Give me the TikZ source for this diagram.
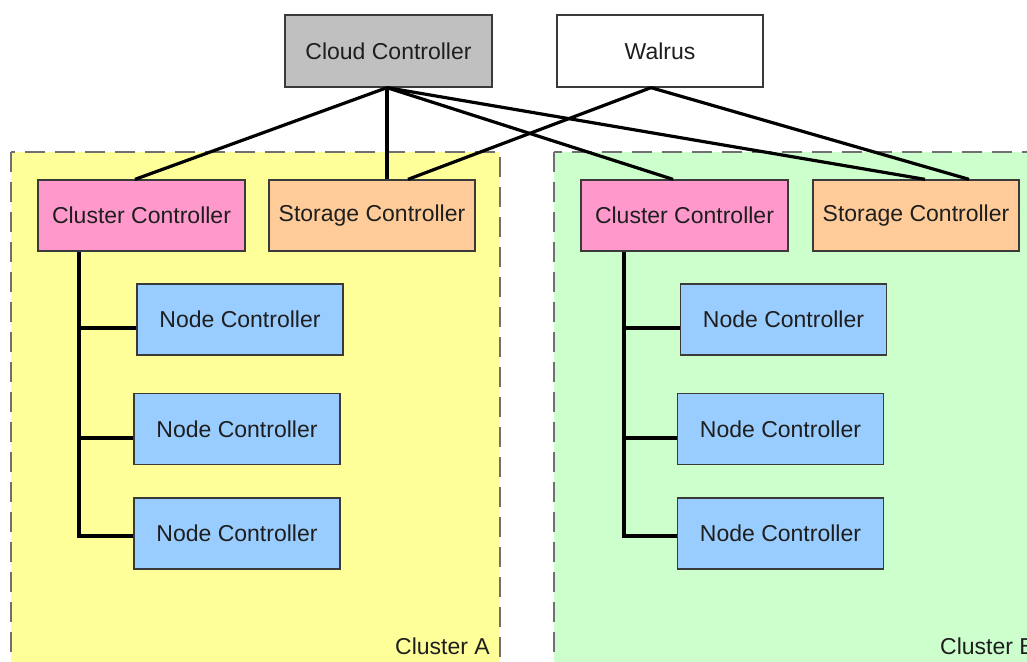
\documentclass[tikz,border=0pt]{standalone}
\usepackage{fontspec}
\setmainfont{Liberation Sans}
\definecolor{txt}{HTML}{1E1E1E}
\definecolor{boxline}{HTML}{3A3A3A}
\definecolor{cloudfill}{HTML}{C0C0C0}
\definecolor{clusterfill}{HTML}{FF99CC}
\definecolor{storagefill}{HTML}{FFCC99}
\definecolor{nodefill}{HTML}{99CCFF}
\definecolor{zoneA}{HTML}{FFFF99}
\definecolor{zoneB}{HTML}{CCFFCC}
\definecolor{zoneline}{HTML}{707070}
\tikzset{
  box/.style={draw=boxline, line width=1.3pt, minimum width=206pt, minimum height=71pt,
    inner sep=0pt, text=txt, font=\fontsize{23}{27}\selectfont},
  cloudbox/.style={box, fill=cloudfill},
  walrusbox/.style={box, fill=white},
  clusterbox/.style={box, fill=clusterfill},
  storagebox/.style={box, fill=storagefill},
  nodebox/.style={box, fill=nodefill},
  zone/.style={draw=zoneline, line width=2pt, dash pattern=on 20pt off 10pt},
  link/.style={draw=black, line width=3.2pt},
  zonelabel/.style={text=txt, font=\fontsize{23}{27}\selectfont, inner sep=0pt},
}
\begin{document}
\begin{tikzpicture}[x=1pt, y=-1pt]
  \clip (0,0) rectangle (1027,661);
  \fill[white] (0,0) rectangle (1027,661);

  % cluster zones
  \draw[zone, fill=zoneA] (11,152) rectangle (500,700);
  \draw[zone, fill=zoneB] (554,152) rectangle (1060,700);
  \node[zonelabel, anchor=base east] (labA) at (490,654) {Cluster A};
  \node[zonelabel, anchor=base west] (labB) at (940,654) {Cluster B};

  % top level
  \node[cloudbox, minimum width=207pt, minimum height=72pt] (cloud) at (388.5,51) {Cloud Controller};
  \node[walrusbox, minimum height=72pt] (walrus) at (660,51) {Walrus};

  % cluster A
  \node[clusterbox, minimum width=207pt] (ccA) at (141.5,215.5) {Cluster Controller};
  \node[storagebox] (scA) at (372,215.5) {Storage Controller};
  \node[nodebox] (ncA1) at (240,319.5) {Node Controller};
  \node[nodebox] (ncA2) at (237,429) {Node Controller};
  \node[nodebox] (ncA3) at (237,533.5) {Node Controller};

  % cluster B
  \node[clusterbox, minimum width=207pt] (ccB) at (684.5,215.5) {Cluster Controller};
  \node[storagebox] (scB) at (916,215.5) {Storage Controller};
  \node[nodebox] (ncB1) at (783.5,319.5) {Node Controller};
  \node[nodebox] (ncB2) at (780.5,429) {Node Controller};
  \node[nodebox] (ncB3) at (780.5,533.5) {Node Controller};

  % connection points on the top boxes
  \coordinate (cloudP) at ([xshift=-1.5pt]cloud.south);
  \coordinate (walrusP) at ([xshift=-9pt]walrus.south);

  % links from the cloud controller and walrus
  \draw[link] (cloudP) -- ([xshift=-6.5pt]ccA.north);
  \draw[link] (cloudP) -- ([xshift=15pt]scA.north);
  \draw[link] (cloudP) -- ([xshift=-11.5pt]ccB.north);
  \draw[link] (cloudP) -- ([xshift=9pt]scB.north);
  \draw[link] (walrusP) -- ([xshift=36pt]scA.north);
  \draw[link] (walrusP) -- ([xshift=53pt]scB.north);

  % node controller buses
  \coordinate (busA) at ([xshift=-62.5pt]ccA.south);
  \coordinate (busB) at ([xshift=-60.5pt]ccB.south);
  \coordinate (jA1) at ([yshift=-8.5pt]ncA1.west);
  \coordinate (jA2) at ([yshift=-9pt]ncA2.west);
  \coordinate (jA3) at ([yshift=-2.5pt]ncA3.west);
  \coordinate (jB1) at ([yshift=-8.5pt]ncB1.west);
  \coordinate (jB2) at ([yshift=-9pt]ncB2.west);
  \coordinate (jB3) at ([yshift=-2.5pt]ncB3.west);
  \draw[link] (busA) |- (jA3);
  \draw[link] (busA |- jA1) -- (jA1);
  \draw[link] (busA |- jA2) -- (jA2);
  \draw[link] (busB) |- (jB3);
  \draw[link] (busB |- jB1) -- (jB1);
  \draw[link] (busB |- jB2) -- (jB2);
\end{tikzpicture}
\end{document}
